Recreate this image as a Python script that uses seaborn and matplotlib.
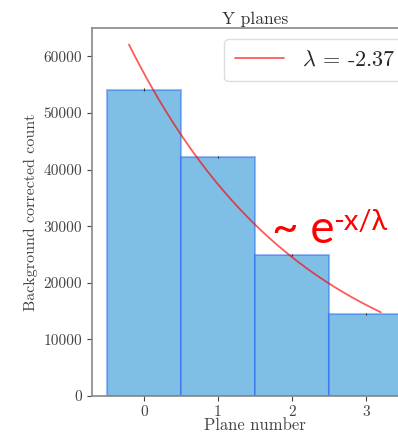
import matplotlib
matplotlib.use("Agg")
import matplotlib.pyplot as plt
import numpy as np
import pandas as pd
import seaborn as sns

# Data
planes = [0, 1, 2, 3]
counts = [54100, 42250, 24950, 14500]
count_err = [250, 220, 180, 150]
fit_amp = 57070
fit_lambda = -2.37
fit_xmin, fit_xmax = -0.2, 3.2

sns.set_style("ticks")
plt.rcParams["font.family"] = "serif"
plt.rcParams["font.serif"] = ["cmr10", "DejaVu Serif"]
plt.rcParams["mathtext.fontset"] = "cm"
plt.rcParams["axes.formatter.use_mathtext"] = True

df = pd.DataFrame({"plane": planes, "count": counts})

fig = plt.figure(figsize=(3.98, 4.33), dpi=100)
# axes run past the right edge, like the cropped original
ax = fig.add_axes([0.231, 0.0855, 0.819, 0.8495])

sns.barplot(data=df, x="plane", y="count", color="#7fbfe6", saturation=1,
            width=1.0, edgecolor=(0.1, 0.35, 0.95, 0.4), linewidth=1.5,
            errorbar=None, ax=ax)
ax.errorbar(planes, counts, yerr=count_err, fmt="none", ecolor="#333333",
            elinewidth=0.8, capsize=0)

xs = np.linspace(fit_xmin, fit_xmax, 200)
ax.plot(xs, fit_amp * np.exp(xs / fit_lambda), color="red", alpha=0.65, lw=1.3,
        label=r"$\lambda$ = -2.37")

ax.set_xlim(-0.7, 3.7)
ax.set_ylim(0, 65000)
ax.set_yticks([0, 10000, 20000, 30000, 40000, 50000, 60000])
ax.set_yticklabels(["0", "10000", "20000", "30000", "40000", "50000", "60000"])
ax.set_xticks(planes)
ax.set_xticklabels([str(p) for p in planes])
ax.tick_params(labelsize=11, colors="#444444", length=3.5, width=0.8)
for s in ax.spines.values():
    s.set_color("#888888")
    s.set_linewidth(1.2)

ax.set_title("Y planes", fontsize=12.5, color="#333333", pad=3)
ax.set_xlabel("Plane number", fontsize=12, color="#444444", labelpad=-1)
ax.set_ylabel("Background corrected count", fontsize=11.5, color="#444444", labelpad=4)

ax.legend(loc="upper right", fontsize=16, handlelength=2.2, frameon=True,
          framealpha=1, edgecolor="#dddddd", borderpad=0.5)

fig.text(0.683, 0.439, "~ e", fontsize=33, color="red", family="Lato")
fig.text(0.836, 0.469, "-x/\u03bb", fontsize=21, color="red", family="Lato")

fig.savefig("out.png", dpi=100)
